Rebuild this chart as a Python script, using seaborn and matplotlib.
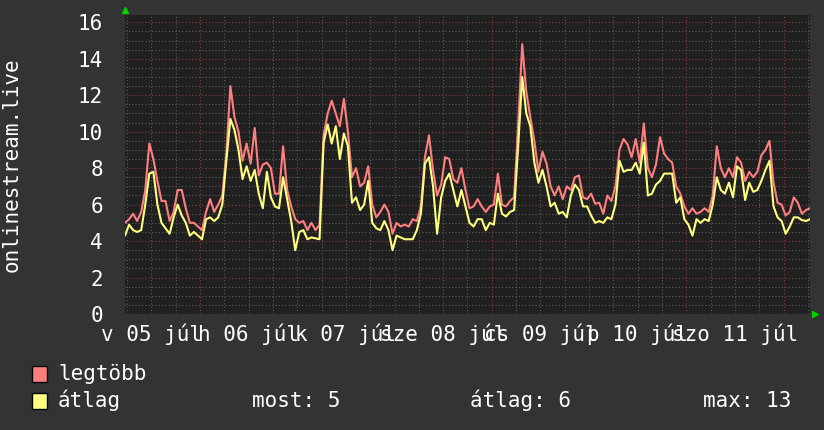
import numpy as np
import pandas as pd
import seaborn as sns
import matplotlib.pyplot as plt
from matplotlib.ticker import FixedLocator, MultipleLocator, FuncFormatter
from matplotlib.patches import Rectangle

# hours since 05 jul 05:30, one sample per hour
hours = np.arange(170)

legtobb = [5.0, 5.2, 5.5, 5.1, 5.6, 6.8, 9.35, 8.5, 7.3, 6.2,
           6.2, 5.1, 5.6, 6.8, 6.8, 5.8, 5.0, 5.0, 4.8, 4.6,
           5.6, 6.3, 5.6, 6.0, 6.5, 8.8, 12.5, 10.8, 10.0, 8.4,
           9.35, 8.25, 10.2, 7.6, 8.2, 8.3, 8.0, 6.6, 6.6, 9.2,
           6.8, 5.9, 5.2, 5.0, 5.1, 4.6, 5.0, 4.6, 4.9, 9.8,
           11.0, 11.7, 11.0, 10.3, 11.8, 10.0, 7.5, 8.0, 7.0, 7.2,
           8.1, 6.0, 5.3, 5.6, 6.0, 5.6, 4.4, 5.0, 4.8, 4.9,
           4.8, 5.2, 5.1, 5.9, 8.6, 9.8, 7.9, 6.5, 7.1, 8.6,
           8.5, 7.4, 7.2, 8.0, 6.8, 5.8, 5.9, 6.3, 5.9, 5.6,
           5.9, 6.0, 7.7, 6.0, 5.9, 6.2, 6.4, 10.4, 14.8, 12.2,
           10.8, 9.5, 7.8, 8.9, 8.25, 7.0, 6.5, 7.0, 6.3, 7.0,
           6.8, 7.5, 7.6, 6.4, 6.3, 6.6, 6.05, 6.1, 5.5, 6.5,
           6.2, 7.0, 9.0, 9.6, 9.3, 8.6, 9.6, 8.3, 10.45, 8.0,
           7.5, 8.2, 9.7, 8.8, 8.5, 8.3, 7.0, 6.6, 5.9, 5.5,
           5.8, 5.5, 5.6, 5.8, 5.6, 6.5, 9.2, 8.0, 7.5, 8.0,
           7.5, 8.6, 8.3, 7.3, 7.8, 7.5, 7.8, 8.7, 9.0, 9.5,
           7.2, 6.1, 6.0, 5.4, 5.6, 6.4, 6.1, 5.5, 5.7, 5.8]

atlag = [4.3, 4.9, 4.6, 4.5, 4.6, 6.0, 7.7, 7.8, 6.0, 5.0,
         4.7, 4.4, 5.3, 6.0, 5.4, 5.0, 4.3, 4.5, 4.3, 4.1,
         5.2, 5.3, 5.1, 5.3, 6.0, 8.4, 10.7, 10.1, 9.0, 7.4,
         8.1, 7.3, 7.9, 6.6, 5.8, 7.8, 6.4, 5.9, 5.8, 7.5,
         6.3, 5.1, 3.5, 4.5, 4.6, 4.1, 4.2, 4.15, 4.1, 9.4,
         10.4, 9.35, 10.3, 8.5, 9.9, 9.2, 6.1, 6.4, 5.7, 6.0,
         7.3, 5.0, 4.7, 4.6, 5.1, 4.6, 3.5, 4.3, 4.2, 4.1,
         4.1, 4.1, 4.6, 5.5, 8.25, 8.6, 7.0, 4.4, 6.4, 7.3,
         7.7, 6.8, 5.9, 6.8, 5.9, 5.0, 4.8, 5.2, 5.2, 4.6,
         5.0, 4.9, 6.6, 5.5, 5.35, 5.6, 5.7, 9.2, 13.0, 11.0,
         10.3, 8.3, 7.2, 7.9, 7.0, 5.9, 6.1, 5.5, 5.6, 5.3,
         6.5, 7.1, 6.8, 5.9, 5.9, 5.4, 5.0, 5.1, 5.0, 5.3,
         5.2, 6.0, 8.4, 7.8, 7.9, 7.9, 8.3, 7.7, 9.4, 6.5,
         6.6, 7.1, 7.3, 7.7, 7.7, 7.7, 6.1, 6.4, 5.2, 4.9,
         4.3, 5.2, 5.0, 5.2, 5.1, 6.0, 7.5, 6.8, 6.6, 7.2,
         6.4, 8.1, 7.9, 6.25, 7.2, 6.7, 6.8, 7.3, 7.9, 8.4,
         5.9, 5.3, 5.1, 4.4, 4.8, 5.3, 5.3, 5.15, 5.1, 5.2]

day_labels = ["v 05 júl", "h 06 júl", "k 07 júl", "sze 08 júl",
              "cs 09 júl", "p 10 júl", "szo 11 júl"]
stats = ["most: 5", "átlag: 6", "max: 13"]

sns.set_theme(style="dark")
plt.rcParams['font.family'] = ['DejaVu Sans Mono']

BG = "#333333"
PLOT_BG = "#202020"
RED = "#ff7f7f"
YEL = "#ffff7f"

df = pd.DataFrame({
    "ora": np.concatenate([hours, hours]),
    "ertek": legtobb + atlag,
    "sorozat": ["legtöbb"] * len(hours) + ["átlag"] * len(hours),
})

fig = plt.figure(figsize=(8.24, 4.30), dpi=100, facecolor=BG)
ax = fig.add_axes([125 / 824, 1 - 314 / 430, 685 / 824, 299 / 430])
ax.set_facecolor(PLOT_BG)

sns.lineplot(data=df, x="ora", y="ertek", hue="sorozat",
             palette={"legtöbb": RED, "átlag": YEL},
             hue_order=["legtöbb", "átlag"], linewidth=1.5,
             legend=False, ax=ax)

ax.set_xlim(0, 169)
ax.set_ylim(0, 16.4)

# grid: midnight / 2 units red, 6 hours / 0.5 units grey
midnights = [18.5 + 24 * k for k in range(7)]
noons = [6.5 + 24 * k for k in range(len(day_labels))]
ax.xaxis.set_major_locator(FixedLocator(midnights))
ax.xaxis.set_minor_locator(MultipleLocator(6, offset=0.5))
ax.xaxis.set_major_formatter(FuncFormatter(lambda v, p: ""))
noon_map = {round(n, 1): lab for n, lab in zip(noons, day_labels)}
ax.xaxis.set_minor_formatter(FuncFormatter(lambda v, p: noon_map.get(round(v, 1), "")))
ax.yaxis.set_major_locator(MultipleLocator(2))
ax.yaxis.set_minor_locator(MultipleLocator(0.5))

ax.grid(which="minor", color="#5c5c5c", linestyle=(0, (1, 2)), linewidth=0.8)
ax.grid(which="major", color="#8a3c3c", linestyle=(0, (1, 2)), linewidth=0.8)
ax.set_axisbelow(True)

ax.tick_params(axis="both", which="both", length=0, colors="white", labelsize=15)
ax.tick_params(axis="y", which="major", pad=16)
ax.tick_params(axis="x", which="minor", pad=7)
for s in ax.spines.values():
    s.set_visible(False)

ax.set_xlabel("")
ax.set_ylabel("onlinestream.live", color="white", fontsize=15, labelpad=40)

# green axis arrows
ax.plot([0], [1.018], marker="^", color="#00d000", markersize=5,
        transform=ax.transAxes, clip_on=False)
ax.plot([1.008], [0.0], marker=">", color="#00d000", markersize=5,
        transform=ax.transAxes, clip_on=False)

# legend rrdtool style
fig.patches.append(Rectangle((32 / 824, 1 - 382 / 430), 15 / 824, 16 / 430,
                             transform=fig.transFigure, facecolor=RED,
                             edgecolor="black", linewidth=1))
fig.patches.append(Rectangle((32 / 824, 1 - 409 / 430), 15 / 824, 16 / 430,
                             transform=fig.transFigure, facecolor=YEL,
                             edgecolor="black", linewidth=1))
fig.text(58 / 824, 1 - 380 / 430, "legtöbb", color="white", fontsize=15, va="baseline")
fig.text(58 / 824, 1 - 407 / 430, "átlag", color="white", fontsize=15, va="baseline")
for xpos, txt in zip([252, 470, 703], stats):
    fig.text(xpos / 824, 1 - 407 / 430, txt, color="white", fontsize=15, va="baseline")

fig.savefig("out.png", dpi=100, facecolor=BG)
